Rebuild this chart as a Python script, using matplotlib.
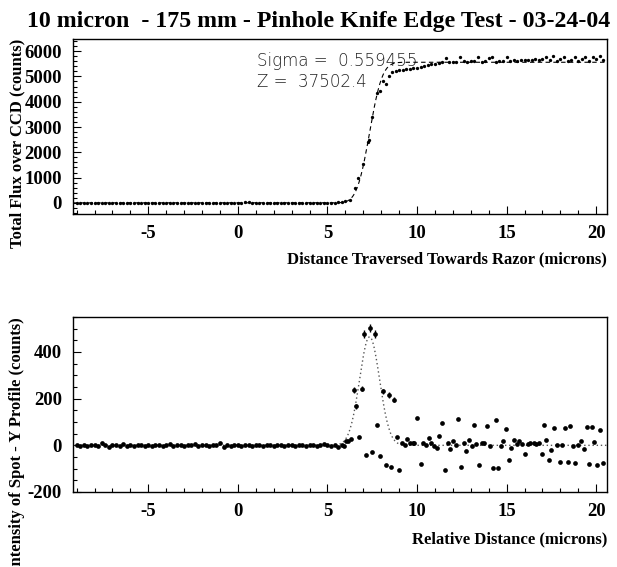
import math
import numpy as np
import matplotlib
matplotlib.use("Agg")
import matplotlib.pyplot as plt
from matplotlib.ticker import MultipleLocator
from matplotlib.font_manager import FontProperties

plt.rcParams["axes.unicode_minus"] = False

# knife edge scan: total flux vs position
flux_x = [
    -9.0, -8.8, -8.6, -8.4, -8.2, -8.0, -7.8, -7.6, -7.4, -7.2,
    -7.0, -6.8, -6.6, -6.4, -6.2, -6.0, -5.8, -5.6, -5.4, -5.2,
    -5.0, -4.8, -4.6, -4.4, -4.2, -4.0, -3.8, -3.6, -3.4, -3.2,
    -3.0, -2.8, -2.6, -2.4, -2.2, -2.0, -1.8, -1.6, -1.4, -1.2,
    -1.0, -0.8, -0.6, -0.4, -0.2, 0.0, 0.2, 0.4, 0.6, 0.8,
    1.0, 1.2, 1.4, 1.6, 1.8, 2.0, 2.2, 2.4, 2.6, 2.8,
    3.0, 3.2, 3.4, 3.6, 3.8, 4.0, 4.2, 4.4, 4.6, 4.8,
    5.0, 5.2, 5.4, 5.6, 5.8, 6.0,
    6.26, 6.54, 6.72, 7.0, 7.24, 7.3, 7.47, 7.75, 7.93, 8.08,
    8.25, 8.44, 8.62,
    8.8, 9.0, 9.2, 9.4, 9.6, 9.8, 10.0, 10.2, 10.4, 10.6,
    10.8, 11.0, 11.2, 11.4, 11.6, 11.8, 12.0, 12.2, 12.4, 12.6,
    12.8, 13.0, 13.2, 13.4, 13.6, 13.8, 14.0, 14.2, 14.4, 14.6,
    14.8, 15.0, 15.2, 15.4, 15.6, 15.8, 16.0, 16.2, 16.4, 16.6,
    16.8, 17.0, 17.2, 17.4, 17.6, 17.8, 18.0, 18.2, 18.4, 18.6,
    18.8, 19.0, 19.2, 19.4, 19.6, 19.8, 20.0, 20.2, 20.4,
]
flux_y = [
    3, -2, 4, 0, -3, 2, 5, -1, 0, 3,
    -2, 1, 4, -3, 0, 2, -1, 3, 5, 0,
    -2, 4, 1, -1, 3, 0, -4, 2, 6, 1,
    -2, 3, 0, 5, -1, 2, 4, -3, 1, 0,
    8, 4, 2, -2, 3, 6, 1, 18, 22, 12,
    5, 0, 3, -2, 4, 1, -1, 2, 0, 5,
    3, -2, 0, 4, 1, -3, 2, 6, 0, 3,
    8, 5, 12, 20, 35, 70,
    130, 605, 1000, 1530, 2420, 2480, 3390, 4350, 4420, 4820,
    4710, 5010, 5180,
    5220, 5250, 5270, 5290, 5300, 5320, 5350, 5380, 5420, 5450,
    5480, 5500, 5540, 5560, 5740, 5560, 5590, 5570, 5780, 5600,
    5580, 5620, 5600, 5760, 5570, 5610, 5730, 5780, 5590, 5620,
    5600, 5750, 5610, 5640, 5620, 5650, 5630, 5660, 5640, 5680,
    5650, 5700, 5780, 5660, 5800, 5620, 5690, 5760, 5600, 5640,
    5780, 5620, 5680, 5760, 5620, 5780, 5690, 5800, 5630,
]

# spot Y profile (derivative of the scan)
prof_x = [
    -9.0, -8.8, -8.6, -8.4, -8.2, -8.0, -7.8, -7.6, -7.4, -7.2,
    -7.0, -6.8, -6.6, -6.4, -6.2, -6.0, -5.8, -5.6, -5.4, -5.2,
    -5.0, -4.8, -4.6, -4.4, -4.2, -4.0, -3.8, -3.6, -3.4, -3.2,
    -3.0, -2.8, -2.6, -2.4, -2.2, -2.0, -1.8, -1.6, -1.4, -1.2,
    -1.0, -0.8, -0.6, -0.4, -0.2, 0.0, 0.2, 0.4, 0.6, 0.8,
    1.0, 1.2, 1.4, 1.6, 1.8, 2.0, 2.2, 2.4, 2.6, 2.8,
    3.0, 3.2, 3.4, 3.6, 3.8, 4.0, 4.2, 4.4, 4.6, 4.8,
    5.0, 5.2, 5.4, 5.6, 5.8,
    5.95, 6.05, 6.15, 6.29, 6.76, 7.15, 7.48, 7.78, 7.93, 8.27,
    8.55, 8.87, 9.0, 9.15, 9.3, 9.46, 9.6, 9.75, 9.85, 10.0,
    10.2, 10.35, 10.5, 10.65, 10.8, 10.95, 11.1, 11.25, 11.4, 11.54,
    11.7, 11.85, 12.0, 12.15, 12.29, 12.43, 12.6, 12.75, 12.9, 13.05,
    13.18, 13.3, 13.47, 13.6, 13.75, 13.93, 14.07, 14.22, 14.38, 14.53,
    14.68, 14.82, 14.97, 15.12, 15.27, 15.42, 15.57, 15.7, 15.85, 16.03,
    16.18, 16.33, 16.5, 16.65, 16.8, 17.0, 17.1, 17.22, 17.35, 17.5,
    17.65, 17.8, 17.95, 18.1, 18.25, 18.4, 18.55, 18.7, 18.84, 19.0,
    19.14, 19.3, 19.47, 19.6, 19.76, 19.9, 20.06, 20.2, 20.35,
]
prof_y = [
    0, -2, 1, -3, 0, 2, -4, 8, 3, -5,
    0, 2, -2, 4, -3, 1, -1, 3, 0, -2,
    2, -4, 0, 3, -1, 1, 4, -2, 0, 2,
    -3, 1, 0, 4, -4, 2, 0, -1, 3, 0,
    12, -8, 2, -1, 3, 0, -2, 3, 1, -1,
    2, 0, -3, 1, 3, -2, 0, 2, -1, 1,
    0, -2, 3, 1, -1, 2, 0, -3, 1, 4,
    0, -2, 2, -5, 3,
    -3, 18, 18, 28, 35, -42, -29, 89, -44, -85,
    -94, 36, -107, 12, 0, 28, 8, 10, 8, 118,
    -82, 12, 0, 30, 8, -3, -10, 39, 96, -107,
    8, -15, 18, 3, 115, -92, 8, -25, 22, -3,
    89, 5, -86, 12, 8, 82, -3, -96, 107, -96,
    -3, 19, 68, -61, -10, 22, 5, 20, 5, -35,
    5, 10, 12, 5, 12, -36, 89, 22, -64, -20,
    73, 0, -72, 0, 73, -72, 85, -3, -77, 0,
    18, -15, 80, -79, 80, 15, -85, 65, -75,
]

# peak bins, drawn with their error bars
peak_x = [6.46, 6.61, 6.9, 7.06, 7.37, 7.67, 8.1, 8.42, 8.72]
peak_y = [236, 167, 243, 478, 502, 477, 231, 216, 196]
peak_err = [12, 10, 12, 16, 17, 16, 12, 11, 10]

# gaussian fit results
fit_sigma = 0.559455
fit_z = 37502.4
fit_mean = 7.35
fit_peak = 465
fit_step = 5560

xmin, xmax = -9.2, 20.6
xf = np.linspace(xmin, xmax, 600)
gauss = fit_peak * np.exp(-0.5 * ((xf - fit_mean) / fit_sigma) ** 2)
step = np.array([0.5 * fit_step * (1 + math.erf((v - fit_mean) / (fit_sigma * math.sqrt(2)))) for v in xf])

serif = ["Liberation Serif", "DejaVu Serif"]
tick_fp = FontProperties(family=serif, weight="bold", size=13.5)
lab_kw = dict(family=serif, weight="bold", size=12)

W, H = 617, 567
fig = plt.figure(figsize=(W / 100, H / 100), dpi=100)
ax1 = fig.add_axes([73 / W, 1 - 214 / H, 534 / W, 175 / H])
ax2 = fig.add_axes([73 / W, 1 - 492 / H, 534 / W, 175 / H])

fig.text(319 / W, 1 - 22 / H, "10 micron  - 175 mm - Pinhole Knife Edge Test - 03-24-04",
         ha="center", va="center", family=serif, weight="bold", size=17.2)

ax1.plot(xf, step, ls=(0, (4, 3)), color="black", lw=0.8, zorder=2)
ax1.plot(flux_x, flux_y, "o", color="black", ms=2.4, mew=0, zorder=3)
ax1.set_xlim(xmin, xmax)
ax1.set_ylim(-440, 6480)
ax1.yaxis.set_major_locator(MultipleLocator(1000))
ax1.yaxis.set_minor_locator(MultipleLocator(200))
stat_kw = dict(transform=ax1.transAxes, family="DejaVu Sans", weight="light",
               size=12, color="#222222", va="center", zorder=1)
ax1.text(0.345, 0.876, "Sigma =  %g" % fit_sigma, **stat_kw)
ax1.text(0.345, 0.756, "Z =  %.1f" % fit_z, **stat_kw)
ax1.set_xlabel("Distance Traversed Towards Razor (microns)", loc="right", **lab_kw)
ax1.xaxis.set_label_coords(1.0, -0.213)
ax1.set_ylabel("Total Flux over CCD (counts)", loc="top", **lab_kw)
ax1.yaxis.set_label_coords(-0.09, 1.0)

ax2.plot(xf, gauss, ls=(0, (1, 2)), color="#555555", lw=1.0, zorder=2)
ax2.plot(prof_x, prof_y, "o", color="black", ms=3.4, mew=0, zorder=3)
ax2.errorbar(peak_x, peak_y, yerr=peak_err, fmt="o", color="black", ms=3.4,
             mew=0, elinewidth=1.0, capsize=0, zorder=3)
ax2.set_xlim(xmin, xmax)
ax2.set_ylim(-200, 550)
ax2.yaxis.set_major_locator(MultipleLocator(200))
ax2.yaxis.set_minor_locator(MultipleLocator(50))
ax2.set_xlabel("Relative Distance (microns)", loc="right", **lab_kw)
ax2.xaxis.set_label_coords(1.0, -0.223)
ax2.set_ylabel("Intensity of Spot - Y Profile (counts)", loc="top", **lab_kw)
ax2.yaxis.set_label_coords(-0.09, 1.0)

for ax in (ax1, ax2):
    ax.xaxis.set_major_locator(MultipleLocator(5))
    ax.xaxis.set_minor_locator(MultipleLocator(1))
    ax.tick_params(which="both", direction="in", top=False, right=False, width=0.8)
    ax.tick_params(which="major", length=6)
    ax.tick_params(axis="x", which="major", pad=8)
    ax.tick_params(axis="y", which="major", pad=8)
    ax.tick_params(which="minor", length=3)
    for lab in ax.get_xticklabels() + ax.get_yticklabels():
        lab.set_fontproperties(tick_fp)
    for s in ax.spines.values():
        s.set_linewidth(1.0)

fig.savefig("out.png", dpi=100)
